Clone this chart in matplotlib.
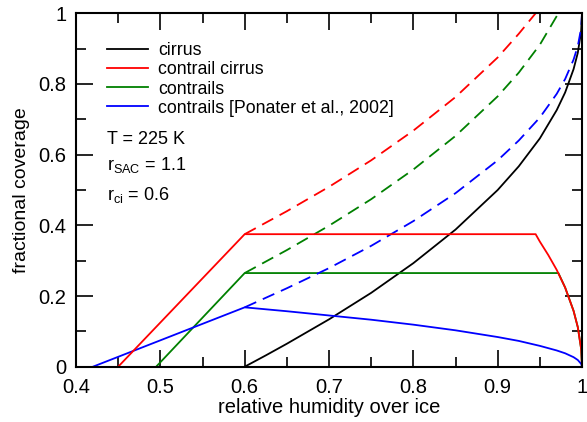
import matplotlib
matplotlib.use("Agg")
import matplotlib.pyplot as plt
from matplotlib.ticker import MultipleLocator, FuncFormatter

plt.rcParams['font.family'] = ['Liberation Sans', 'DejaVu Sans']
plt.rcParams['mathtext.fontset'] = 'custom'
plt.rcParams['mathtext.rm'] = 'Liberation Sans'
plt.rcParams['mathtext.it'] = 'Liberation Sans'

# ---- data ----
rh_cirrus = [0.6, 0.625, 0.65, 0.7, 0.75, 0.8, 0.85, 0.9, 0.925, 0.95, 0.97, 0.98, 0.99, 0.995, 0.999, 1.0]
cov_cirrus = [0.0, 0.032, 0.065, 0.134, 0.209, 0.293, 0.388, 0.5, 0.567, 0.646, 0.726, 0.776, 0.842, 0.888, 0.95, 1.0]

rh_cc = [0.45, 0.6, 0.945, 0.95, 0.96, 0.97, 0.98, 0.99, 0.995, 0.999, 1.0]
cov_cc = [0.0, 0.375, 0.375, 0.354, 0.316, 0.274, 0.224, 0.158, 0.112, 0.05, 0.0]
rh_cc_tot = [0.6, 0.65, 0.7, 0.75, 0.8, 0.85, 0.9, 0.925, 0.945]
cov_cc_tot = [0.375, 0.44, 0.509, 0.584, 0.668, 0.763, 0.875, 0.942, 1.0]

rh_ct = [0.495, 0.6, 0.972, 0.98, 0.99, 0.995, 0.999, 1.0]
cov_ct = [0.0, 0.265, 0.265, 0.224, 0.158, 0.112, 0.05, 0.0]
rh_ct_tot = [0.6, 0.65, 0.7, 0.75, 0.8, 0.85, 0.9, 0.925, 0.95, 0.972]
cov_ct_tot = [0.265, 0.33, 0.399, 0.474, 0.558, 0.653, 0.765, 0.832, 0.911, 1.0]

rh_pon = [0.42, 0.6, 0.65, 0.7, 0.75, 0.8, 0.85, 0.9, 0.925, 0.95, 0.97, 0.98, 0.99, 0.995, 0.999, 1.0]
cov_pon = [0.0, 0.168, 0.157, 0.145, 0.133, 0.119, 0.103, 0.084, 0.073, 0.059, 0.046, 0.038, 0.027, 0.019, 0.008, 0.0]
rh_pon_tot = [0.6, 0.65, 0.7, 0.75, 0.8, 0.85, 0.9, 0.925, 0.95, 0.97, 0.98, 0.99, 0.995, 0.999, 1.0]
cov_pon_tot = [0.168, 0.222, 0.279, 0.342, 0.412, 0.491, 0.584, 0.640, 0.705, 0.772, 0.814, 0.869, 0.907, 0.958, 1.0]

labels = ["cirrus", "contrail cirrus", "contrails", "contrails [Ponater et al., 2002]"]
annotations = ["T = 225 K", r"r$_{\mathrm{SAC}}$ = 1.1", r"r$_{\mathrm{ci}}$ = 0.6"]

fig = plt.figure(figsize=(5.87, 4.22), dpi=100)
ax = fig.add_axes([0.1295, 0.131, 0.862, 0.8375])

lw = 1.3
dash = (0, (7, 4))
h_ci, = ax.plot(rh_cirrus, cov_cirrus, color='black', lw=lw)
h_ct, = ax.plot(rh_ct, cov_ct, color='#008000', lw=lw)
ax.plot(rh_ct_tot, cov_ct_tot, color='#008000', lw=lw, linestyle=dash)
h_pon, = ax.plot(rh_pon, cov_pon, color='blue', lw=lw)
ax.plot(rh_pon_tot, cov_pon_tot, color='blue', lw=lw, linestyle=dash)
h_cc, = ax.plot(rh_cc, cov_cc, color='red', lw=lw)
ax.plot(rh_cc_tot, cov_cc_tot, color='red', lw=lw, linestyle=dash)

ax.set_xlim(0.4, 1.0)
ax.set_ylim(0, 1)
ax.xaxis.set_major_locator(MultipleLocator(0.1))
ax.xaxis.set_minor_locator(MultipleLocator(0.05))
ax.yaxis.set_major_locator(MultipleLocator(0.2))
ax.yaxis.set_minor_locator(MultipleLocator(0.1))
fmt = FuncFormatter(lambda v, p: ('%g' % round(v, 3)))
ax.xaxis.set_major_formatter(fmt)
ax.yaxis.set_major_formatter(fmt)
ax.tick_params(which='both', direction='in', top=True, right=True, width=1.2, labelsize=14.5)
ax.tick_params(which='major', length=12)
ax.tick_params(axis='x', which='major', pad=8)
ax.tick_params(axis='y', which='major', pad=7)
ax.tick_params(which='minor', length=7)
for s in ax.spines.values():
    s.set_linewidth(1.5)

ax.set_xlabel("relative humidity over ice", fontsize=14.5, labelpad=1)
ax.set_ylabel("fractional coverage", fontsize=14, labelpad=6)

leg = ax.legend([h_ci, h_cc, h_ct, h_pon], labels, loc='upper left', frameon=False,
                fontsize=12.8, handlelength=2.3, labelspacing=0.12, handletextpad=0.6,
                borderpad=0, bbox_to_anchor=(0.061, 0.918), borderaxespad=0)

ypos = [0.644, 0.57, 0.486]
for t, yy in zip(annotations, ypos):
    ax.text(0.061, yy, t, transform=ax.transAxes, fontsize=13, va='center')

fig.savefig("out.png", dpi=100)
